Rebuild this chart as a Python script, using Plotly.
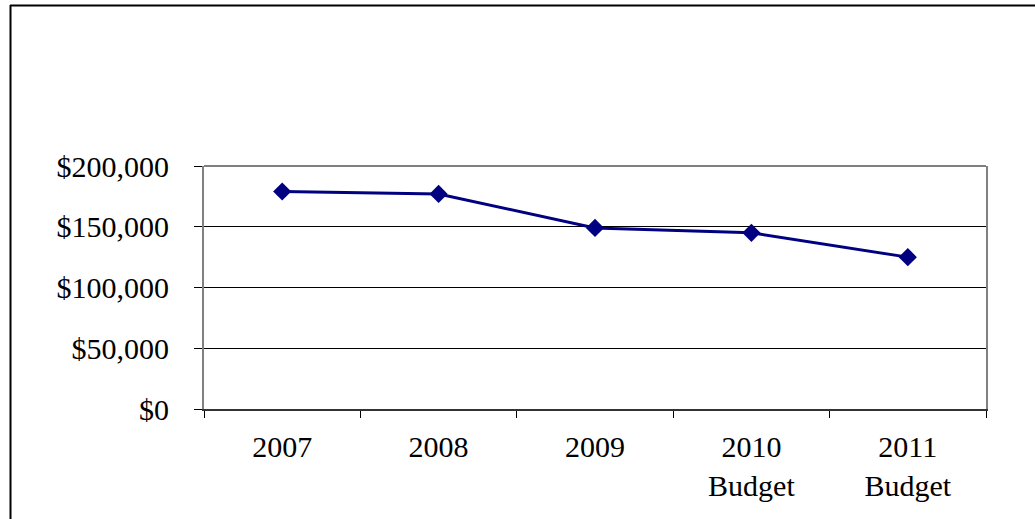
import plotly.graph_objects as go

# Annual totals, actual and budgeted
categories = ["2007", "2008", "2009", "2010<br>Budget", "2011<br>Budget"]
amounts = [179000, 177000, 149000, 145000, 125000]
y_ticks = [0, 50000, 100000, 150000, 200000]
y_tick_labels = ["$0", "$50,000", "$100,000", "$150,000", "$200,000"]

W, H = 1035, 519
L, R, T, B = 204, 986, 166, 409  # plot area edges in pixels

def px_to_paper_x(px):
    return (px - L) / (R - L)

def px_to_paper_y(py):
    return (B - py) / (B - T)

font_family = "Liberation Serif, Times New Roman, serif"

fig = go.Figure()
fig.add_trace(go.Scatter(
    x=categories,
    y=amounts,
    mode="lines+markers",
    line=dict(color="#000080", width=3),
    marker=dict(symbol="diamond", size=14, color="#000080"),
    showlegend=False,
    hoverinfo="skip",
))

fig.update_layout(
    width=W,
    height=H,
    margin=dict(l=L, r=W - R, t=T, b=H - B),
    paper_bgcolor="white",
    plot_bgcolor="white",
    font=dict(family=font_family, size=30, color="black"),
    xaxis=dict(
        type="category",
        showgrid=False,
        showline=True,
        linecolor="#333333",
        linewidth=2,
        ticks="outside",
        tickson="boundaries",
        ticklen=7,
        tickcolor="black",
        tickwidth=1,
        ticklabelstandoff=10,
        tickfont=dict(family=font_family, size=30),
        range=[-0.5, 4.5],
    ),
    yaxis=dict(
        range=[0, 200000],
        tickmode="array",
        tickvals=y_ticks,
        ticktext=y_tick_labels,
        showgrid=True,
        gridcolor="black",
        gridwidth=1,
        zeroline=False,
        showline=True,
        linecolor="#808080",
        linewidth=2,
        mirror=True,
        ticks="outside",
        ticklen=8,
        tickcolor="black",
        tickwidth=1,
        ticklabelstandoff=19,
        tickfont=dict(family=font_family, size=30),
    ),
    shapes=[
        # grey top edge of the plot area
        dict(type="line", xref="paper", yref="paper", x0=0, x1=1, y0=1, y1=1,
             line=dict(color="#808080", width=2), layer="above"),
        # outer frame: top and left edges
        dict(type="line", xref="paper", yref="paper",
             x0=px_to_paper_x(10), x1=px_to_paper_x(W + 5),
             y0=px_to_paper_y(5.5), y1=px_to_paper_y(5.5),
             line=dict(color="black", width=2)),
        dict(type="line", xref="paper", yref="paper",
             x0=px_to_paper_x(10.5), x1=px_to_paper_x(10.5),
             y0=px_to_paper_y(5), y1=px_to_paper_y(H + 5),
             line=dict(color="black", width=2)),
    ],
)

fig.write_html("out.html")
